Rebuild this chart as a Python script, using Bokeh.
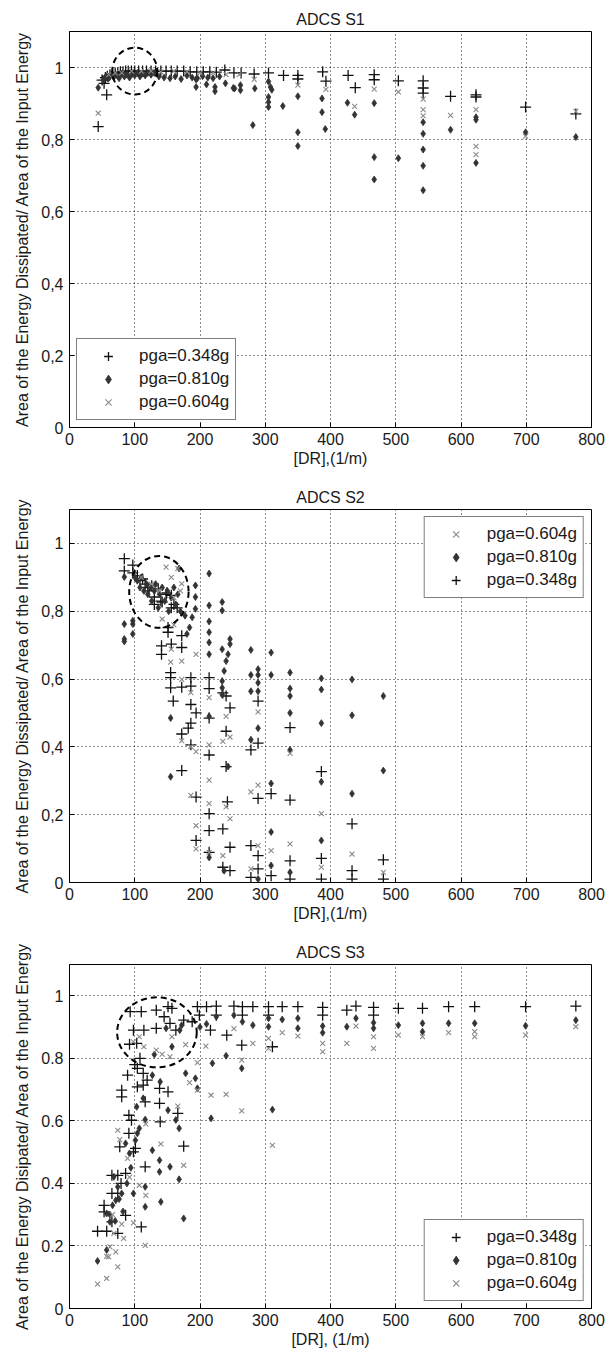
from bokeh.plotting import figure
from bokeh.models import Range1d, FixedTicker, Legend, LegendItem
from bokeh.layouts import column
from bokeh.embed import file_html
from bokeh.resources import INLINE

# ---------------- data ----------------
x_ticks = [0, 100, 200, 300, 400, 500, 600, 700, 800]
y_ticks = [0, 0.2, 0.4, 0.6, 0.8, 1.0]
y_labels_comma = ["0", "0,2", "0,4", "0,6", "0,8", "1"]
y_labels_dot = ["0", "0.2", "0.4", "0.6", "0.8", "1"]
series_labels = ["pga=0.348g", "pga=0.810g", "pga=0.604g"]

# ADCS S1
s1_348_x = [44, 53, 57, 50, 55, 58, 62, 66, 70, 74, 78, 82, 86, 90, 95, 100, 106, 112, 118, 125,
            132, 140, 148, 156, 165, 175, 185, 195, 205, 215, 225, 238, 252, 263, 283, 305, 328, 350, 350, 388,
            393, 427, 438, 467, 467, 504, 542, 542, 542, 584, 623, 623, 699, 776]
s1_348_y = [0.836, 0.956, 0.924, 0.965, 0.972, 0.976, 0.98, 0.982, 0.985, 0.985, 0.988, 0.988, 0.99, 0.99, 0.99, 0.99, 0.99, 0.99, 0.99, 0.99,
            0.99, 0.99, 0.99, 0.99, 0.99, 0.99, 0.988, 0.988, 0.988, 0.988, 0.987, 0.993, 0.985, 0.985, 0.982, 0.985, 0.978, 0.978, 0.968, 0.988,
            0.962, 0.978, 0.944, 0.98, 0.966, 0.963, 0.963, 0.943, 0.929, 0.92, 0.924, 0.918, 0.89, 0.871]
s1_810_x = [44, 52, 56, 60, 64, 68, 72, 76, 80, 84, 88, 92, 96, 100, 104, 108, 112, 116, 120, 125,
            130, 137, 145, 154, 162, 171, 180, 188, 194, 194, 196, 204, 210, 212, 220, 223, 223, 230, 239, 251,
            253, 262, 262, 281, 284, 305, 305, 305, 305, 308, 310, 327, 350, 350, 350, 387, 387, 392, 426, 437,
            467, 467, 467, 504, 542, 542, 542, 542, 542, 584, 623, 623, 623, 699, 776]
s1_810_y = [0.944, 0.965, 0.975, 0.97, 0.98, 0.975, 0.98, 0.97, 0.982, 0.975, 0.98, 0.972, 0.982, 0.978, 0.985, 0.975, 0.983, 0.978, 0.985, 0.98,
            0.985, 0.975, 0.972, 0.97, 0.975, 0.968, 0.978, 0.972, 0.967, 0.946, 0.97, 0.976, 0.953, 0.972, 0.97, 0.946, 0.934, 0.975, 0.956, 0.943,
            0.942, 0.951, 0.937, 0.84, 0.942, 0.961, 0.918, 0.904, 0.89, 0.946, 0.938, 0.893, 0.92, 0.82, 0.782, 0.914, 0.876, 0.829, 0.902, 0.869,
            0.901, 0.751, 0.689, 0.748, 0.848, 0.816, 0.772, 0.727, 0.659, 0.827, 0.862, 0.855, 0.735, 0.82, 0.807]
s1_604_x = [44, 60, 70, 80, 95, 110, 125, 140, 160, 180, 200, 220, 240, 260, 283, 350, 393, 437, 467, 504,
            542, 542, 542, 584, 623, 623, 623, 699, 776]
s1_604_y = [0.873, 0.98, 0.985, 0.985, 0.99, 0.99, 0.99, 0.988, 0.99, 0.988, 0.985, 0.985, 0.98, 0.98, 0.967, 0.951, 0.939, 0.892, 0.94, 0.932,
            0.912, 0.883, 0.866, 0.867, 0.883, 0.781, 0.758, 0.809, 0.878]

# ADCS S2
s2_348_x = [84, 84, 97, 97, 104, 108, 112, 116, 120, 122, 126, 130, 130, 136, 140, 142, 148, 149, 156, 156,
            160, 165, 151, 151, 141, 141, 156, 172, 172, 155, 155, 155, 159, 172, 186, 186, 186, 194, 186, 172,
            182, 186, 172, 194, 194, 214, 214, 214, 214, 214, 214, 214, 235, 235, 235, 240, 246, 240, 240, 242,
            246, 246, 278, 278, 278, 289, 289, 289, 289, 289, 309, 309, 338, 338, 338, 338, 386, 386, 386, 433,
            433, 433, 481, 481]
s2_348_y = [0.955, 0.919, 0.936, 0.913, 0.905, 0.89, 0.895, 0.88, 0.87, 0.86, 0.875, 0.842, 0.82, 0.866, 0.83, 0.827, 0.85, 0.854, 0.847, 0.81,
            0.82, 0.81, 0.752, 0.738, 0.698, 0.673, 0.703, 0.728, 0.693, 0.619, 0.604, 0.574, 0.535, 0.576, 0.604, 0.579, 0.525, 0.5, 0.47, 0.438,
            0.455, 0.406, 0.33, 0.252, 0.124, 0.604, 0.572, 0.485, 0.376, 0.203, 0.153, 0.089, 0.158, 0.045, 0.559, 0.55, 0.515, 0.446, 0.342, 0.238,
            0.104, 0.035, 0.391, 0.109, 0.015, 0.535, 0.411, 0.248, 0.079, 0.04, 0.262, 0.02, 0.457, 0.243, 0.064, 0.01, 0.327, 0.071, 0.01, 0.173,
            0.035, 0.01, 0.067, 0.01]
s2_810_x = [84, 84, 84, 84, 97, 97, 97, 100, 104, 108, 110, 114, 118, 120, 124, 126, 130, 132, 136, 138,
            142, 146, 150, 152, 156, 160, 163, 166, 170, 168, 193, 193, 193, 188, 184, 177, 180, 214, 214, 214,
            214, 214, 214, 234, 234, 246, 246, 243, 240, 237, 234, 234, 155, 155, 214, 234, 234, 243, 278, 278,
            278, 278, 289, 289, 289, 289, 289, 309, 309, 309, 309, 309, 338, 338, 338, 338, 338, 386, 386, 386,
            386, 386, 433, 433, 433, 481, 481, 214, 237, 289, 338]
s2_810_y = [0.901, 0.762, 0.718, 0.711, 0.762, 0.733, 0.772, 0.9, 0.89, 0.87, 0.9, 0.86, 0.88, 0.85, 0.87, 0.83, 0.86, 0.88, 0.81, 0.85,
            0.87, 0.83, 0.86, 0.8, 0.84, 0.87, 0.82, 0.85, 0.8, 0.926, 0.876, 0.842, 0.807, 0.782, 0.752, 0.787, 0.733, 0.911, 0.817, 0.77,
            0.738, 0.708, 0.673, 0.827, 0.802, 0.718, 0.703, 0.673, 0.653, 0.624, 0.594, 0.688, 0.485, 0.312, 0.49, 0.574, 0.554, 0.342, 0.686, 0.612,
            0.564, 0.421, 0.629, 0.612, 0.589, 0.564, 0.455, 0.678, 0.612, 0.292, 0.149, 0.05, 0.619, 0.572, 0.55, 0.5, 0.391, 0.602, 0.569, 0.47,
            0.297, 0.124, 0.599, 0.493, 0.262, 0.55, 0.33, 0.074, 0.035, 0.01, 0.03]
s2_604_x = [166, 172, 148, 156, 142, 172, 172, 156, 172, 186, 194, 186, 194, 194, 194, 214, 214, 214, 214, 214,
            235, 240, 246, 240, 246, 235, 278, 289, 289, 289, 309, 278, 338, 338, 386, 386, 433, 481, 110, 125,
            138, 160, 170, 160, 186, 155]
s2_604_y = [0.926, 0.881, 0.93, 0.9, 0.777, 0.653, 0.599, 0.688, 0.418, 0.401, 0.386, 0.257, 0.168, 0.099, 0.673, 0.545, 0.406, 0.302, 0.233, 0.089,
            0.416, 0.49, 0.429, 0.223, 0.188, 0.079, 0.267, 0.503, 0.287, 0.109, 0.094, 0.04, 0.381, 0.114, 0.203, 0.045, 0.084, 0.03, 0.9, 0.88,
            0.86, 0.84, 0.86, 0.76, 0.56, 0.65]

# ADCS S3
s3_348_x = [43, 57, 53, 53, 65, 65, 65, 74, 74, 74, 79, 80, 80, 86, 86, 89, 91, 91, 77, 95,
            98, 101, 104, 113, 116, 116, 110, 103, 104, 113, 119, 138, 138, 139, 151, 166, 175, 93, 110, 133,
            151, 157, 145, 98, 114, 133, 163, 154, 175, 92, 188, 196, 210, 225, 252, 265, 281, 305, 326, 350,
            388, 425, 439, 466, 504, 541, 581, 621, 699, 776, 225, 216, 241, 264, 311, 265, 305, 388, 466, 199,
            100, 108]
s3_348_y = [0.247, 0.247, 0.33, 0.309, 0.368, 0.426, 0.277, 0.426, 0.368, 0.24, 0.4, 0.698, 0.677, 0.432, 0.298, 0.746, 0.618, 0.56, 0.517, 0.602,
            0.501, 0.512, 0.709, 0.714, 0.661, 0.453, 0.261, 0.848, 0.768, 0.752, 0.73, 0.704, 0.656, 0.597, 0.693, 0.624, 0.519, 0.949, 0.949, 0.954,
            0.965, 0.96, 0.933, 0.89, 0.89, 0.896, 0.89, 0.912, 0.922, 0.845, 0.917, 0.965, 0.965, 0.967, 0.967, 0.965, 0.965, 0.965, 0.965, 0.965,
            0.963, 0.954, 0.967, 0.963, 0.96, 0.96, 0.965, 0.965, 0.965, 0.967, 0.938, 0.89, 0.874, 0.842, 0.837, 0.938, 0.938, 0.938, 0.938, 0.938,
            0.78, 0.8]
s3_810_x = [43, 57, 57, 62, 68, 71, 74, 80, 86, 92, 98, 101, 104, 107, 103, 116, 113, 116, 116, 127,
            138, 138, 140, 154, 151, 168, 168, 175, 163, 139, 127, 178, 193, 196, 219, 240, 264, 217, 311, 225,
            252, 265, 281, 305, 305, 326, 350, 350, 388, 388, 425, 439, 466, 466, 504, 541, 541, 581, 621, 699,
            776, 130, 157, 172, 169, 148, 62, 66, 70, 76, 82, 88, 94, 200, 210]
s3_810_y = [0.152, 0.187, 0.304, 0.277, 0.421, 0.346, 0.389, 0.368, 0.528, 0.496, 0.368, 0.538, 0.56, 0.576, 0.645, 0.604, 0.672, 0.389, 0.325, 0.506,
            0.474, 0.437, 0.341, 0.453, 0.634, 0.576, 0.413, 0.288, 0.603, 0.725, 0.746, 0.752, 0.736, 0.704, 0.784, 0.808, 0.768, 0.608, 0.636, 0.933,
            0.938, 0.917, 0.906, 0.928, 0.901, 0.924, 0.928, 0.896, 0.903, 0.882, 0.901, 0.928, 0.914, 0.896, 0.906, 0.912, 0.885, 0.912, 0.912, 0.904,
            0.922, 0.812, 0.837, 0.906, 0.89, 0.896, 0.3, 0.33, 0.28, 0.35, 0.31, 0.4, 0.45, 0.9, 0.91]
s3_604_x = [43, 57, 57, 62, 71, 74, 83, 68, 74, 77, 89, 98, 107, 117, 116, 117, 140, 175, 166, 98,
            107, 114, 133, 142, 154, 157, 178, 184, 196, 196, 209, 217, 240, 264, 311, 264, 281, 305, 305, 326,
            350, 388, 388, 425, 439, 466, 466, 504, 541, 581, 621, 621, 699, 776, 252, 66, 80, 92, 60]
s3_604_y = [0.078, 0.096, 0.167, 0.197, 0.181, 0.133, 0.224, 0.24, 0.57, 0.54, 0.48, 0.274, 0.394, 0.362, 0.202, 0.59, 0.526, 0.458, 0.647, 0.853,
            0.869, 0.837, 0.826, 0.813, 0.805, 0.869, 0.844, 0.722, 0.698, 0.786, 0.839, 0.682, 0.685, 0.632, 0.522, 0.794, 0.848, 0.832, 0.864, 0.882,
            0.871, 0.848, 0.821, 0.848, 0.903, 0.869, 0.832, 0.874, 0.869, 0.882, 0.885, 0.869, 0.874, 0.901, 0.895, 0.3, 0.27, 0.42, 0.165]

# highlighted region (dashed ellipse): centre x, centre y, width, height
s1_circle = [100, 0.99, 69, 0.13]
s2_circle = [137, 0.857, 91, 0.212]
s3_circle = [134, 0.883, 122, 0.224]

FONT = "Liberation Sans"
TXT = "#1a1a1a"


def make_panel(title, xlabel, ylabel, ylabels, height, b_top, b_bottom, b_left, b_right,
               data, order, legend_loc, circle):
    p = figure(width=615, height=height, output_backend="svg", toolbar_location=None,
               x_range=Range1d(0, 800), y_range=Range1d(0, 1.1),
               min_border_top=b_top, min_border_bottom=b_bottom,
               min_border_left=b_left, min_border_right=b_right,
               background_fill_color="white", border_fill_color="white")
    p.title.text = title
    p.title.align = "center"
    p.title.text_font = FONT
    p.title.text_font_size = "16px"
    p.title.text_font_style = "normal"
    p.title.text_color = TXT
    p.title.standoff = 8

    p.outline_line_color = "black"
    p.outline_line_width = 1
    p.outline_line_alpha = 1

    p.xaxis.ticker = FixedTicker(ticks=x_ticks)
    p.yaxis.ticker = FixedTicker(ticks=y_ticks)
    p.yaxis.major_label_overrides = {t: l for t, l in zip(y_ticks, ylabels)}
    p.xaxis.axis_label = xlabel
    p.yaxis.axis_label = ylabel
    for ax in (p.xaxis, p.yaxis):
        ax.major_tick_in = 5
        ax.major_tick_out = 0
        ax.minor_tick_line_color = None
        ax.axis_line_color = "black"
        ax.major_tick_line_color = "black"
        ax.major_label_text_font = FONT
        ax.major_label_text_font_size = "16px"
        ax.major_label_text_color = TXT
        ax.axis_label_text_font = FONT
        ax.axis_label_text_font_size = "16px"
        ax.axis_label_text_font_style = "normal"
        ax.axis_label_text_color = TXT
    p.xaxis.major_label_standoff = 5
    p.xaxis.axis_label_standoff = 2
    p.yaxis.major_label_standoff = 6
    p.yaxis.axis_label_standoff = 7

    for g in (p.xgrid, p.ygrid):
        g.grid_line_color = "black"
        g.grid_line_dash = "1 3"
        g.grid_line_width = 1
        g.grid_line_alpha = 0.9

    (x348, y348), (x810, y810), (x604, y604) = data
    r348 = p.scatter(x348, y348, marker="cross", size=11, line_color="#111111", line_width=1.3)
    r810 = p.scatter(x810, y810, marker="diamond", size=7, fill_color="#333333", line_color="#333333",
                     line_width=0.8)
    r604 = p.scatter(x604, y604, marker="x", size=7, line_color="#8a8a8a", line_width=1.1)

    cx, cy, w, h = circle
    p.ellipse(x=[cx], y=[cy], width=[w], height=[h], fill_color=None,
              line_color="black", line_width=2, line_dash="6 4")

    rmap = {series_labels[0]: r348, series_labels[1]: r810, series_labels[2]: r604}
    items = [LegendItem(label=lab, renderers=[rmap[lab]]) for lab in order]
    leg = Legend(items=items, location=legend_loc, margin=7, padding=6, spacing=1,
                 glyph_width=50, glyph_height=22, label_height=22, label_standoff=6,
                 label_text_font=FONT, label_text_font_size="17px", label_text_color=TXT,
                 border_line_color="black", border_line_width=1, background_fill_alpha=1)
    p.add_layout(leg)
    return p


p1 = make_panel("ADCS S1", "[DR],(1/m)",
                "Area of the Energy Dissipated/ Area of the Input Energy", y_labels_comma,
                478, 31, 51, 69, 24,
                [(s1_348_x, s1_348_y), (s1_810_x, s1_810_y), (s1_604_x, s1_604_y)],
                [series_labels[0], series_labels[1], series_labels[2]], "bottom_left", s1_circle)
p2 = make_panel("ADCS S2", "[DR],(1/m)",
                "Area of the Energy Dissipated/ Area of the Input Energy", y_labels_comma,
                449, 31, 45, 60, 16,
                [(s2_348_x, s2_348_y), (s2_810_x, s2_810_y), (s2_604_x, s2_604_y)],
                [series_labels[2], series_labels[1], series_labels[0]], "top_right", s2_circle)
p3 = make_panel("ADCS S3", "[DR], (1/m)",
                "Area of the Energy Disipated/ Area of the Input Energy", y_labels_dot,
                426, 37, 45, 64, 19,
                [(s3_348_x, s3_348_y), (s3_810_x, s3_810_y), (s3_604_x, s3_604_y)],
                [series_labels[0], series_labels[1], series_labels[2]], "bottom_right", s3_circle)

layout = column(p1, p2, p3, spacing=0)
open("out.html", "w").write(file_html(layout, INLINE))
